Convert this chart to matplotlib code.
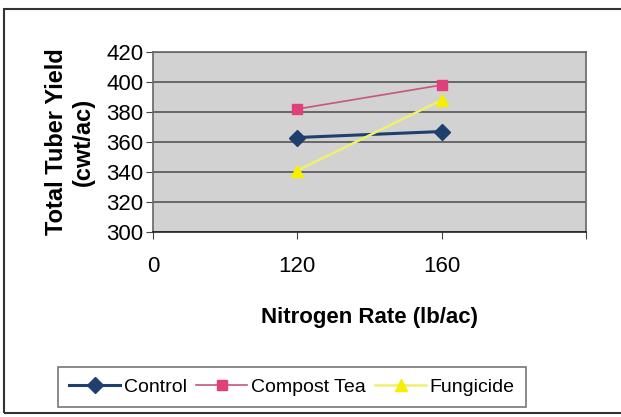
import matplotlib.pyplot as plt
from matplotlib.patches import Rectangle

# category axis: 0, 120, 160
categories = ["0", "120", "160"]
cat_pos = [1, 2]  # data sits at the 120 and 160 categories

control = [363, 367]
compost_tea = [382, 398]
fungicide = [341, 388]

plt.rcParams['font.family'] = ['Liberation Sans', 'DejaVu Sans']

fig = plt.figure(figsize=(6.21, 4.17), dpi=100)
ax = fig.add_axes([0.2464, 0.4436, 0.6973, 0.4317])

# outer chart frame
fig.patches.append(Rectangle((4 / 621, 4 / 417), 1.0, 404 / 417, transform=fig.transFigure,
                             fill=False, edgecolor='#333333', linewidth=1.5))

ax.set_facecolor('#d2d2d2')
ax.plot(cat_pos, control, color='#1f3f6e', linewidth=2.2, marker='D', markersize=8,
        label='Control')
ax.plot(cat_pos, compost_tea, color='#c4577a', linewidth=1.2, marker='s', markersize=7,
        markerfacecolor='#e0407a', markeredgecolor='#e0407a', label='Compost Tea')
ax.plot(cat_pos, fungicide, color='#f0f070', linewidth=1.8, marker='^', markersize=9,
        markerfacecolor='#f5f000', markeredgecolor='#f5f000', label='Fungicide')

ax.set_ylim(300, 420)
ax.set_yticks(range(300, 421, 20))
ax.set_xlim(0, 3)
ax.set_xticks([0, 1, 2, 3])
ax.set_xticklabels(categories + [""])
ax.yaxis.grid(True, color='#555555', linewidth=1.2)
ax.set_axisbelow(True)
for s in ax.spines.values():
    s.set_color('#666666')
    s.set_linewidth(1.2)
ax.spines['bottom'].set_color('#222222')
ax.tick_params(axis='both', labelsize=16, direction='out', length=5, color='#444444')
ax.tick_params(axis='x', pad=12)
ax.tick_params(axis='y', pad=2)

ax.set_ylabel("Total Tuber Yield\n(cwt/ac)", fontsize=17, fontweight='bold', labelpad=8,
              linespacing=1.25)
ax.set_xlabel("Nitrogen Rate (lb/ac)", fontsize=16, fontweight='bold', labelpad=22)

leg = fig.legend(loc='center', bbox_to_anchor=(292 / 621, 1 - 387 / 417), ncol=3,
                 fontsize=14, frameon=True, fancybox=False, edgecolor='#555555',
                 handlelength=2.6, columnspacing=0.5, handletextpad=0.2,
                 borderpad=0.6)
leg.get_frame().set_linewidth(1.2)

fig.savefig("out.png", dpi=100)
